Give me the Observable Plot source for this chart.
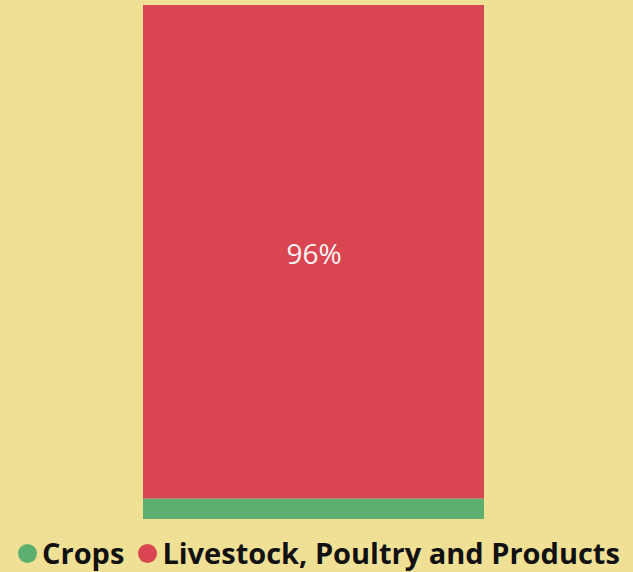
<!DOCTYPE html>
<html>
<head>
<meta charset="utf-8">
<script src="https://cdn.jsdelivr.net/npm/d3@7"></script>
<script src="https://cdn.jsdelivr.net/npm/@observablehq/plot@0.6"></script>
<style>
  html, body { margin: 0; padding: 0; background: #EFE096; }
  #chart { width: 633px; height: 572px; position: relative; background: #EFE096; overflow: hidden; }
  .legend { position: absolute; left: 18px; top: 536px; height: 34px; line-height: 34px; display: flex; align-items: center;
    font-family: "Open Sans", "Noto Sans", sans-serif; font-weight: 700; font-size: 29px; color: #111; white-space: nowrap; }
  .legend span.sw { display: inline-block; width: 19px; height: 19px; border-radius: 50%; margin-right: 5px; }
  .legend .item { display: flex; align-items: center; margin-right: 14px; }
</style>
</head>
<body>
<div id="chart"></div>
<script>
const group = ["Total"];
const categories = ["Crops", "Livestock, Poultry and Products"];
const shares = [4, 96];
const labels = ["", "96%"];
const colors = ["#5DAF6F", "#D94550"];

const data = categories.map((c, i) => ({group: group[0], category: c, value: shares[i], label: labels[i]}));

const plot = Plot.plot({
  width: 633,
  height: 520,
  marginLeft: 143,
  marginRight: 149,
  marginTop: 5,
  marginBottom: 1,
  style: {background: "transparent", fontFamily: "'Open Sans', sans-serif"},
  x: {domain: group, padding: 0, axis: null},
  y: {domain: [0, 100], axis: null},
  color: {domain: categories, range: colors},
  marks: [
    Plot.barY(data, {x: "group", y: "value", fill: "category", order: categories}),
    Plot.text(data, Plot.stackY({x: "group", y: "value", z: "category", order: categories, text: "label", fill: "#FFF4F4", fontSize: 28, dy: 3}))
  ]
});
const chart = document.getElementById("chart");
chart.appendChild(plot);

const legend = document.createElement("div");
legend.className = "legend";
categories.forEach((c, i) => {
  const item = document.createElement("div");
  item.className = "item";
  const sw = document.createElement("span");
  sw.className = "sw";
  sw.style.background = colors[i];
  item.appendChild(sw);
  item.appendChild(document.createTextNode(c));
  legend.appendChild(item);
});
chart.appendChild(legend);
</script>
</body>
</html>
